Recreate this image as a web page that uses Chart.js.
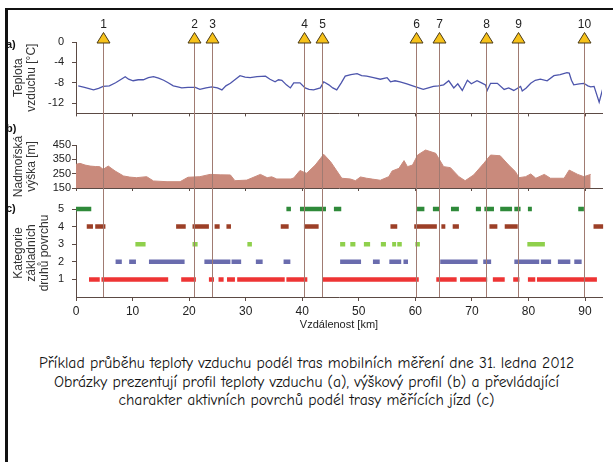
<!DOCTYPE html>
<html>
<head>
<meta charset="utf-8">
<script src="https://cdn.jsdelivr.net/npm/chart.js@4.4.1/dist/chart.umd.min.js"></script>
<style>
    html, body { margin: 0; padding: 0; background: #fff; }
    body { width: 613px; height: 462px; position: relative; overflow: hidden; font-family: "Liberation Sans", Arial, sans-serif; }
    .panel { position: absolute; left: 0; width: 613px; }
    .frame { position: absolute; left: 5px; top: 8px; right: -5px; bottom: -5px; border-left: 3px solid #111; border-top: 2px solid #111; z-index: 5; }
    .tag { position: absolute; left: 6px; font: bold 11px "Liberation Sans", Arial, sans-serif; color: #111; z-index: 4; }
    .caption { position: absolute; left: 0; width: 613px; top: 354px; text-align: center; font: 15.6px "Comic Sans MS", "Comic Neue", "Noto Sans", sans-serif; line-height: 18.5px; color: #111; }
</style>
</head>
<body>
<div class="panel" style="top:0;height:128px"><canvas id="chartTemp"></canvas></div>
<div class="panel" style="top:118px;height:86px"><canvas id="chartElev"></canvas></div>
<div class="panel" style="top:192px;height:140px"><canvas id="chartSurf"></canvas></div>
<div class="frame"></div>
<div class="tag" style="top:38px">a)</div>
<div class="tag" style="top:122px">b)</div>
<div class="tag" style="top:202px">c)</div>
<div class="caption">Příklad průběhu teploty vzduchu podél tras mobilních měření dne 31. ledna 2012<br>Obrázky prezentují profil teploty vzduchu (a), výškový profil (b) a převládající<br>charakter aktivních povrchů podél trasy měřících jízd (c)</div>
<script>
// x axis (km)
const kmTicks = [0, 10, 20, 30, 40, 50, 60, 70, 80, 90];
const kmMax = 93;

// stops (triangles)
const stopKm = [4.8, 20.9, 24.1, 40.4, 43.5, 60.2, 64.1, 72.5, 78.1, 89.9];
const stopLabels = ['1', '2', '3', '4', '5', '6', '7', '8', '9', '10'];

// a) air temperature
const tempTicks = [0, -4, -8, -12];
const tempKm = [0.4, 1.5, 3.1, 4.0, 4.8, 5.9, 7.0, 8.0, 8.7, 9.3, 10.1, 11.0, 11.9, 12.8, 13.7, 14.6, 15.5, 16.3, 17.2, 18.0,
    18.7, 19.8, 21.1, 21.9, 23.0, 24.0, 25.0, 25.8, 26.5, 27.3, 28.2, 29.0, 29.9, 30.8, 32.0, 33.5, 34.3, 35.2, 35.8, 36.4,
    37.2, 37.9, 38.5, 39.6, 40.5, 41.2, 42.0, 43.2, 43.8, 44.7, 45.4, 46.1, 46.9, 47.6, 48.6, 49.7, 50.5, 51.4, 52.6, 53.8,
    55.0, 55.6, 56.4, 57.3, 58.5, 59.8, 61.4, 62.3, 63.2, 64.1, 65.0, 65.9, 66.8, 67.5, 68.3, 69.2, 69.9, 70.9, 71.7, 72.4,
    72.7, 73.3, 74.5, 75.7, 76.5, 77.4, 78.6, 78.9, 79.6, 80.4, 81.2, 82.1, 83.3, 84.5, 85.6, 86.8, 87.2, 87.6, 88.0, 89.0,
    89.8, 90.5, 91.0, 91.6, 92.5, 93.1];
const tempC = [-8.6, -8.9, -9.4, -9.1, -8.7, -8.6, -8.0, -7.3, -6.8, -7.3, -7.6, -7.4, -7.4, -7.0, -6.8, -7.1, -7.5, -8.0, -8.6, -8.8,
    -9.0, -8.9, -8.9, -9.3, -9.0, -8.8, -9.0, -9.4, -8.6, -8.1, -7.3, -6.6, -6.9, -7.0, -6.8, -6.7, -7.3, -7.8, -7.4, -7.5,
    -8.4, -9.0, -8.0, -8.0, -9.0, -9.3, -9.4, -9.0, -7.8, -8.4, -9.0, -9.4, -8.0, -6.7, -6.4, -6.2, -6.6, -6.7, -7.0, -7.3,
    -7.0, -7.8, -7.6, -7.8, -8.2, -8.7, -9.3, -9.0, -8.7, -8.6, -8.4, -7.6, -9.0, -8.2, -9.5, -7.5, -8.2, -7.6, -8.0, -8.4,
    -9.5, -8.1, -8.1, -9.3, -9.0, -9.5, -8.7, -9.6, -9.0, -8.1, -7.5, -7.3, -7.6, -6.6, -6.4, -6.0, -6.1, -7.5, -8.4, -8.2,
    -8.1, -8.6, -8.8, -8.7, -11.8, -9.3];

// b) altitude
const elevTicks = [150, 250, 350, 450];
const elevKm = [0, 0.7, 1.6, 2.5, 3.4, 4.2, 4.8, 5.7, 6.9, 8.4, 9.5, 10.7, 12.5, 13.7, 16.1, 18.4, 19.8, 21.9, 23.7, 25.5,
    27.3, 28.1, 30.2, 32.6, 33.8, 34.6, 35.5, 38.0, 38.5, 39.6, 40.5, 40.8, 42.3, 43.8, 45.0, 47.0, 48.5, 49.4, 50.3, 51.4,
    52.4, 53.8, 55.3, 55.9, 57.1, 58.0, 58.6, 59.5, 60.4, 61.8, 63.6, 65.0, 66.2, 67.7, 68.8, 70.3, 72.1, 73.3, 75.0, 76.5,
    77.7, 78.3, 79.5, 80.4, 81.3, 82.8, 83.9, 86.3, 87.2, 88.7, 89.8, 91.0];
const elevM = [315, 322, 310, 303, 300, 299, 280, 303, 269, 234, 226, 222, 229, 199, 194, 194, 225, 229, 245, 242,
    241, 201, 205, 245, 222, 228, 213, 213, 220, 272, 257, 253, 310, 385, 334, 218, 213, 201, 227, 218,
    212, 204, 229, 269, 287, 341, 299, 310, 380, 415, 392, 299, 292, 229, 201, 241, 322, 380, 375, 310,
    264, 222, 229, 248, 218, 245, 218, 218, 275, 245, 229, 245];

// c) surface categories: [from km, to km]
const surfTicks = [1, 2, 3, 4, 5];
const surf5 = [[0, 2.7], [37.2, 38.0], [39.6, 44.2], [45.6, 46.9], [60.3, 61.6], [63.1, 64.3], [66.3, 67.7], [70.7, 71.6],
    [72.2, 73.9], [75.0, 77.1], [77.5, 78.6], [79.9, 80.6], [88.8, 89.8]];
const surf4 = [[1.9, 3.0], [3.4, 5.2], [17.7, 19.4], [20.6, 23.5], [24.5, 25.4], [26.6, 27.4], [36.2, 37.6], [40.3, 42.9],
    [55.6, 56.8], [59.8, 63.8], [64.6, 65.3], [66.6, 67.7], [73.1, 74.5], [75.8, 78.1], [91.5, 93.2]];
const surf3 = [[10.5, 12.3], [20.6, 21.5], [30.3, 31.1], [46.7, 47.6], [48.5, 49.4], [50.9, 52.0], [53.9, 54.8], [55.9, 56.6],
    [56.8, 57.6], [60.0, 60.8], [79.8, 82.9]];
const surf2 = [[7.0, 8.1], [9.4, 10.6], [12.9, 19.2], [22.7, 27.3], [27.5, 29.2], [31.8, 33.0], [36.7, 37.9], [46.7, 50.4],
    [52.5, 53.7], [55.4, 57.5], [57.9, 58.7], [64.4, 71.0], [72.0, 73.4], [77.5, 81.9], [82.2, 84.0], [85.2, 87.4], [88.1, 89.4]];
const surf1 = [[2.3, 4.2], [4.5, 16.3], [18.6, 21.2], [23.5, 24.4], [25.2, 26.1], [26.7, 28.1], [28.5, 36.9], [37.2, 40.9],
    [43.5, 60.6], [63.7, 67.3], [67.9, 72.7], [73.7, 75.8], [77.3, 78.4], [79.9, 81.2], [81.5, 92.1]];

const axisColor = '#5b4a44';
const tickColor = '#222';
const stopColor = '#a07b72';

// vertical stop lines; canvases overlap a little, so the colour is opaque
const stopsPlugin = {
    id: 'stops',
    afterDatasetsDraw(chart, args, opts) {
        const { ctx, chartArea, scales: { x } } = chart;
        const y0 = opts.flags ? chartArea.top - 9 : 0;
        const y1 = opts.toAxis ? chartArea.bottom : chart.height;
        ctx.save();
        stopKm.forEach((km, i) => {
            const px = Math.round(x.getPixelForValue(km)) + 0.5;
            ctx.strokeStyle = stopColor;
            ctx.lineWidth = 1;
            ctx.beginPath();
            ctx.moveTo(px, y0);
            ctx.lineTo(px, y1);
            ctx.stroke();
            if (opts.flags) {
                const base = chartArea.top + 1;
                ctx.beginPath();
                ctx.moveTo(px - 6.5, base);
                ctx.lineTo(px + 6.5, base);
                ctx.lineTo(px, base - 10.5);
                ctx.closePath();
                ctx.fillStyle = '#f7c21a';
                ctx.fill();
                ctx.strokeStyle = '#4a3a18';
                ctx.stroke();
                ctx.fillStyle = tickColor;
                ctx.font = '12px "Liberation Sans", Arial, sans-serif';
                ctx.textAlign = 'center';
                ctx.textBaseline = 'middle';
                ctx.fillText(stopLabels[i], px, base - 18);
            }
        });
        ctx.restore();
    }
};

const setTicks = list => scale => { scale.ticks = list.map(v => ({ value: v })); };

function xAxis(height, showLabels) {
    return {
        type: 'linear',
        min: 0,
        max: kmMax,
        afterBuildTicks: setTicks(kmTicks),
        afterFit: s => { s.height = height; },
        grid: { drawOnChartArea: false, tickLength: showLabels ? 4 : 3, color: axisColor },
        border: { color: axisColor },
        ticks: { display: showLabels, autoSkip: false, padding: 3, color: tickColor, font: { size: 12 }, maxRotation: 0 },
        title: { display: false }
    };
}

function yAxis(min, max, ticks, title, pad) {
    return {
        min: min,
        max: max,
        afterBuildTicks: setTicks(ticks),
        afterFit: s => { s.width = 76; },
        grid: { drawOnChartArea: false, tickLength: 4, color: axisColor },
        border: { color: axisColor },
        ticks: { padding: pad, autoSkip: false, color: tickColor, font: { size: 11 } },
        title: { display: true, text: title, color: '#333', font: { size: 12, lineHeight: 1.08 }, padding: { top: 12, bottom: 0 } }
    };
}

function baseOptions(padTop, x, y, stops) {
    return {
        responsive: true,
        maintainAspectRatio: false,
        animation: false,
        layout: { padding: { top: padTop, right: 11, left: 0, bottom: 0 } },
        plugins: { legend: { display: false }, tooltip: { enabled: false }, stops: stops },
        elements: { point: { radius: 0 } },
        scales: { x: x, y: y }
    };
}

const pairs = (xs, ys) => xs.map((k, i) => ({ x: k, y: ys[i] }));

new Chart(document.getElementById('chartTemp'), {
    type: 'line',
    data: {
        datasets: [{
            data: pairs(tempKm, tempC),
            borderColor: '#4d55ac',
            borderWidth: 1.3,
            tension: 0
        }]
    },
    options: baseOptions(42, xAxis(4, false), yAxis(-14, 0, tempTicks, ['Teplota', 'vzduchu [°C]'], 8), { flags: true, toAxis: false }),
    plugins: [stopsPlugin]
});

new Chart(document.getElementById('chartElev'), {
    type: 'line',
    data: {
        datasets: [{
            data: pairs(elevKm, elevM),
            borderColor: '#c98a7c',
            backgroundColor: '#c98a7c',
            borderWidth: 1,
            fill: 'start',
            tension: 0
        }]
    },
    options: baseOptions(27, xAxis(16, false), yAxis(150, 450, elevTicks, ['Nadmořská', 'výška [m]'], 1), { flags: false, toAxis: false }),
    plugins: [stopsPlugin]
});

const segments = (list, cat) => list.flatMap(([a, b]) => [{ x: a, y: cat }, { x: b, y: cat }, { x: b, y: null }]);
const surfSets = [
    [surf5, 5, '#2f8a3a'],
    [surf4, 4, '#9c3f27'],
    [surf3, 3, '#8fd04c'],
    [surf2, 2, '#6a6cae'],
    [surf1, 1, '#ee3434']
].map(([list, cat, color]) => ({
    data: segments(list, cat),
    borderColor: color,
    borderWidth: 4.5,
    borderCapStyle: 'butt',
    spanGaps: false,
    clip: false
}));

const surfX = xAxis(35, true);
surfX.title = { display: true, text: 'Vzdálenost [km]', color: tickColor, font: { size: 11 }, padding: 0 };

new Chart(document.getElementById('chartSurf'), {
    type: 'line',
    data: { datasets: surfSets },
    options: baseOptions(17, surfX, yAxis(0, 5, surfTicks, ['Kategorie', 'základních', 'druhů povrchu'], 8), { flags: false, toAxis: true }),
    plugins: [stopsPlugin]
});
</script>
</body>
</html>
